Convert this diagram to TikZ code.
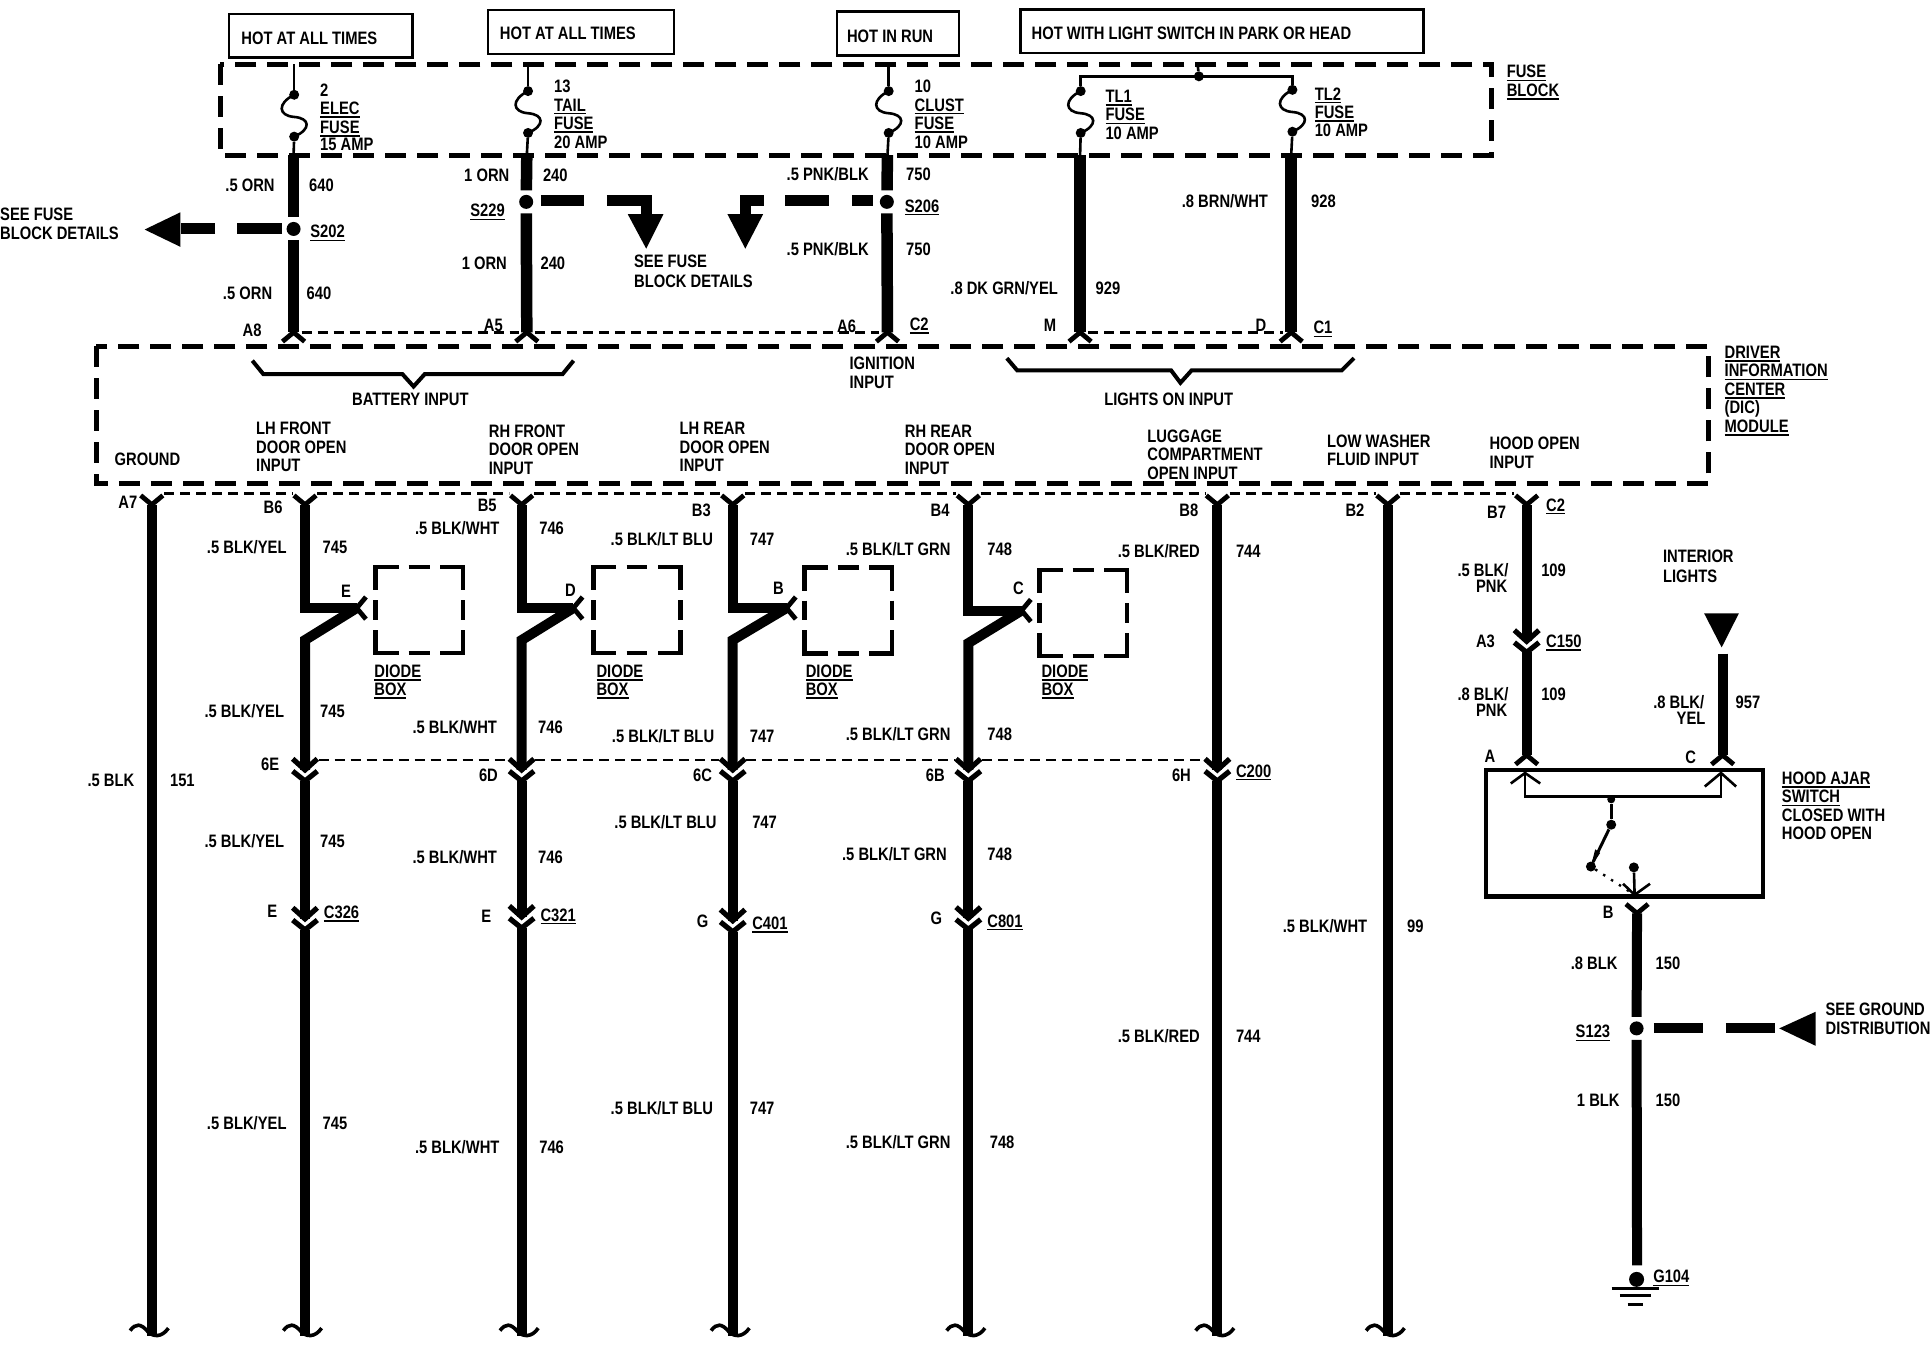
\documentclass[tikz,border=0pt]{standalone}
\usepackage{fontspec}
\setmainfont[FakeStretch=0.82]{Liberation Sans}
\newcommand{\ul}[1]{\vtop{\hbox{#1}\kern1.5pt\hrule height 1.6pt}}

\begin{document}
\begin{tikzpicture}[x=1.2309pt,y=-1.2309pt,
    every node/.style={font=\fontsize{18}{18}\selectfont\bfseries},
    lab/.style={anchor=base west,inner sep=0pt,yshift=-6.5pt},
    wire/.style={line width=10pt},
    wiretop/.style={line width=11.5pt},
    thinw/.style={line width=2.6pt},
    hotbox/.style={line width=2.6pt},
    bigdash/.style={line width=5pt,dash pattern=on 21pt off 11pt},
    boxdash/.style={line width=4.5pt},
    thindash/.style={line width=2.6pt,dash pattern=on 10pt off 6pt},
    brace/.style={line width=4pt},
    solidbox/.style={line width=4.5pt},
    feed/.style={line width=11pt},
    splice/.style={circle,fill,inner sep=0pt,minimum size=14pt,outer sep=4.5pt},
    fdot/.style={circle,fill,inner sep=0pt,minimum size=10pt},
    sdot/.style={circle,fill,inner sep=0pt,minimum size=8pt},
    pics/fork/.style={code={\draw[line width=4.8pt,rotate=#1] (-9,-7.5) -- (0,0) -- (9,-7.5);}},
    pics/plug/.style={code={
      \draw[line width=5.2pt] (-10,-9) -- (0,0) -- (10,-9);
      \draw[line width=5.2pt] (-10,1) -- (0,9) -- (10,1);
      \coordinate (-in) at (0,0);
      \coordinate (-out) at (0,9);}},
    pics/brk/.style={code={\draw[line width=3.6pt] (-17.6,-4) .. controls (-13,-10) and (-9,-10) .. (-3,-3) .. controls (1,1) and (8,2) .. (13.5,-6);}},
    pics/fuse/.style={code={
      \node[fdot] (-a) at (0,0) {};
      \node[fdot] (-b) at (0,34) {};
      \draw[thinw] (-a.center) .. controls (-14,7) and (-13,17) .. (0,18) .. controls (13,19) and (14,28) .. (-b.center);}}]

\useasboundingbox (0,0) rectangle (1568,1092);

% top boxes
\draw[hotbox] (186,11.5) rectangle (335,46.5);
\draw[hotbox] (396.5,8) rectangle (547.5,44);
\draw[hotbox] (680,9.5) rectangle (779,45);
\draw[hotbox] (829,7.6) rectangle (1156.5,43);
\node[lab] (hot1) at (196,31) {HOT AT ALL TIMES};
\node[lab] (hot2) at (406,27) {HOT AT ALL TIMES};
\node[lab] (hot3) at (688,29) {HOT IN RUN};
\node[lab] (hot4) at (838,27) {HOT WITH LIGHT SWITCH IN PARK OR HEAD};

% fuse block
\draw[bigdash] (179,52) rectangle (1211.5,126);
\node[lab] (fb1) at (1224,58) {\ul{FUSE}};
\node[lab] (fb2) at (1224,73) {\ul{BLOCK}};

\coordinate (t1) at (239,52);
\coordinate (t2) at (429,52);
\coordinate (t3) at (722,52);
\coordinate (t4) at (973,52);
\coordinate (o1) at (238.5,126);
\coordinate (o2) at (428,126);
\coordinate (o3) at (721,126);
\coordinate (o4) at (877.5,126);
\coordinate (o5) at (1049,126);

\pic (f1) at (239,77) {fuse};
\pic (f2) at (429,74) {fuse};
\pic (f3) at (722,74) {fuse};
\pic (f4) at (878,74) {fuse};
\pic (f5) at (1050,73) {fuse};
\draw[thinw] (t1) -- (f1-a);
\draw[thinw] (t2) -- (f2-a);
\draw[thinw] (t3) -- (f3-a);
\draw[thinw] (f1-b) -- (o1);
\draw[thinw] (f2-b) -- (o2);
\draw[thinw] (f3-b) -- (o3);
\draw[thinw] (f4-b) -- (o4);
\draw[thinw] (f5-b) -- (o5);
\node[fdot] (tl) at (974,62) {};
\draw[thinw] (t4) -- (tl);
\draw[line width=3.2pt] (f4-a) |- (tl.center) -| (f5-a);

\node[lab] (n1a) at (260,73) {2};
\node[lab] (n1b) at (260,88) {\ul{ELEC}};
\node[lab] (n1c) at (260,103) {\ul{FUSE}};
\node[lab] (n1d) at (260,117) {15 AMP};
\node[lab] (n2a) at (450,70) {13};
\node[lab] (n2b) at (450,85) {\ul{TAIL}};
\node[lab] (n2c) at (450,100) {\ul{FUSE}};
\node[lab] (n2d) at (450,115) {20 AMP};
\node[lab] (n3a) at (743,70) {10};
\node[lab] (n3b) at (743,85) {\ul{CLUST}};
\node[lab] (n3c) at (743,100) {\ul{FUSE}};
\node[lab] (n3d) at (743,115) {10 AMP};
\node[lab] (n4b) at (898,78) {\ul{TL1}};
\node[lab] (n4c) at (898,93) {\ul{FUSE}};
\node[lab] (n4d) at (898,108) {10 AMP};
\node[lab] (n5b) at (1068,76) {\ul{TL2}};
\node[lab] (n5c) at (1068,91) {\ul{FUSE}};
\node[lab] (n5d) at (1068,106) {10 AMP};

% wires down to the module
\coordinate (u1) at (238.5,270);
\coordinate (u2) at (428,270);
\coordinate (u3) at (721,270);
\coordinate (u4) at (877.5,270);
\coordinate (u5) at (1049,270);
\node[splice] (s202) at (238.5,186) {};
\node[splice] (s229) at (427.5,164) {};
\node[splice] (s206) at (720.5,164) {};
\draw[wiretop] (o1) -- (s202);
\draw[wiretop] (s202) -- (u1);
\draw[wiretop] (o2) -- (s229);
\draw[wiretop] (s229) -- (u2);
\draw[wiretop] (o3) -- (s206);
\draw[wiretop] (s206) -- (u3);
\draw[wiretop] (o4) -- (u4);
\draw[wiretop] (o5) -- (u5);
\foreach \a/\b in {u1/u2,u2/u3,u4/u5}
  \draw[thindash] ([xshift=8pt]\a) -- ([xshift=-8pt]\b);
\foreach \a in {u1,u2,u3,u4,u5}
  \pic at (\a) {fork=180};

% feeds to the fuse block details
\coordinate (a1) at (147,186);
\coordinate (a2a) at (525.5,163);
\coordinate (a2b) at (525.5,175);
\coordinate (a3a) at (606,163);
\coordinate (a3b) at (606,175);
\draw[feed,dash pattern=on 45pt off 22pt on 40pt off 10pt] (s202) -- (a1);
\draw[feed,dash pattern=on 43pt off 23pt on 60pt off 10pt] (s229.center) ++(12,-1) -- (a2a) -- (a2b);
\draw[feed,dash pattern=on 21pt off 23pt on 44pt off 21pt on 50pt off 10pt] (s206.center) ++(-11.5,-1) -- (a3a) -- (a3b);
\fill (117.5,186.5) -- (146.5,172.5) -- (146.5,200.5) -- cycle;
\fill (510,174) -- (539,174) -- (525,202) -- cycle;
\fill (591,174) -- (620,174) -- (605.5,202) -- cycle;

\node[lab] (see1a) at (0,174) {SEE FUSE};
\node[lab] (see1b) at (0,189) {BLOCK DETAILS};
\node[lab] (see2a) at (515,212) {SEE FUSE};
\node[lab] (see2b) at (515,228) {BLOCK DETAILS};

\node[lab] (g1a) at (183,150) {.5 ORN};
\node[lab] (c1a) at (251,150) {640};
\node[lab] (spl1) at (252,188) {\ul{S202}};
\node[lab] (g1b) at (181,238) {.5 ORN};
\node[lab] (c1b) at (249,238) {640};
\node[lab] (pA8) at (197,268) {A8};
\node[lab] (g2a) at (377,142) {1 ORN};
\node[lab] (c2a) at (441,142) {240};
\node[lab] (spl2) at (382,171) {\ul{S229}};
\node[lab] (g2b) at (375,214) {1 ORN};
\node[lab] (c2b) at (439,214) {240};
\node[lab] (pA5) at (393,264) {A5};
\node[lab] (g3a) at (639,141) {.5 PNK/BLK};
\node[lab] (c3a) at (736,141) {750};
\node[lab] (spl3) at (735,167) {\ul{S206}};
\node[lab] (g3b) at (639,202) {.5 PNK/BLK};
\node[lab] (c3b) at (736,202) {750};
\node[lab] (pA6) at (680,265) {A6};
\node[lab] (pC2a) at (739,263) {\ul{C2}};
\node[lab] (g4) at (772,234) {.8 DK GRN/YEL};
\node[lab] (c4) at (890,234) {929};
\node[lab] (g5) at (960,163) {.8 BRN/WHT};
\node[lab] (c5) at (1065,163) {928};
\node[lab] (pM) at (848,264) {M};
\node[lab] (pD) at (1020,264) {D};
\node[lab] (pC1) at (1067,266) {\ul{C1}};

% module
\draw[bigdash] (78,281.5) rectangle (1388,393);
\node[lab] (dic1) at (1401,286) {\ul{DRIVER}};
\node[lab] (dic2) at (1401,301) {\ul{INFORMATION}};
\node[lab] (dic3) at (1401,316) {\ul{CENTER}};
\node[lab] (dic4) at (1401,331) {(DIC)};
\node[lab] (dic5) at (1401,346) {\ul{MODULE}};

\draw[brace] (205,293) -- (214,304) -- (327,304) -- (336,314) -- (345,304) -- (457,304) -- (466,293);
\draw[brace] (818,291) -- (826.5,301) -- (951.5,301) -- (959,311) -- (968,301) -- (1090,301) -- (1100,291);
\node[lab] (bat) at (286,324) {BATTERY INPUT};
\node[lab] (lit) at (897,324) {LIGHTS ON INPUT};
\node[lab] (ign1) at (690,295) {IGNITION};
\node[lab] (ign2) at (690,310) {INPUT};
\node[lab] (gnd) at (93,373) {GROUND};
\node[lab] (lf1) at (208,348) {LH FRONT};
\node[lab] (lf2) at (208,363) {DOOR OPEN};
\node[lab] (lf3) at (208,378) {INPUT};
\node[lab] (rf1) at (397,350) {RH FRONT};
\node[lab] (rf2) at (397,365) {DOOR OPEN};
\node[lab] (rf3) at (397,380) {INPUT};
\node[lab] (lr1) at (552,348) {LH REAR};
\node[lab] (lr2) at (552,363) {DOOR OPEN};
\node[lab] (lr3) at (552,378) {INPUT};
\node[lab] (rr1) at (735,350) {RH REAR};
\node[lab] (rr2) at (735,365) {DOOR OPEN};
\node[lab] (rr3) at (735,380) {INPUT};
\node[lab] (lug1) at (932,354) {LUGGAGE};
\node[lab] (lug2) at (932,369) {COMPARTMENT};
\node[lab] (lug3) at (932,384) {OPEN INPUT};
\node[lab] (low1) at (1078,358) {LOW WASHER};
\node[lab] (low2) at (1078,373) {FLUID INPUT};
\node[lab] (hd1) at (1210,360) {HOOD OPEN};
\node[lab] (hd2) at (1210,375) {INPUT};

% wires out of the module
\coordinate (b0) at (123.3,410);
\coordinate (b1) at (247.8,410);
\coordinate (b2) at (423.8,410);
\coordinate (b3) at (595.3,410);
\coordinate (b4) at (786.7,410);
\coordinate (b5) at (989,410);
\coordinate (b6) at (1127.5,410);
\coordinate (b7) at (1240.3,410);
\coordinate (e0) at (123.3,1085);
\coordinate (e1) at (247.8,1085);
\coordinate (e2) at (423.8,1085);
\coordinate (e3) at (595.3,1085);
\coordinate (e4) at (786.7,1085);
\coordinate (e5) at (989,1085);
\coordinate (e6) at (1127.5,1085);

\foreach \a/\b in {b0/b1,b1/b2,b2/b3,b3/b4,b4/b5,b5/b6,b6/b7}
  \draw[thindash] ([shift={(10,-9)}]\a) -- ([shift={(-10,-9)}]\b);
\foreach \a in {b0,b1,b2,b3,b4,b5,b6,b7}
  \pic at (\a) {fork=0};
\foreach \a in {e0,e1,e2,e3,e4,e5,e6}
  \pic at (\a) {brk};

\pic (p1a) at (247.8,625.5) {plug};
\pic (p2a) at (423.8,625.5) {plug};
\pic (p3a) at (595.3,625.5) {plug};
\pic (p4a) at (786.7,625.5) {plug};
\pic (p5a) at (989,625.5) {plug};
\pic (p1b) at (247.8,746.5) {plug};
\pic (p2b) at (423.8,745) {plug};
\pic (p3b) at (595.3,748) {plug};
\pic (p4b) at (786.7,746) {plug};
\foreach \a/\b in {p1a/p2a,p2a/p3a,p3a/p4a,p4a/p5a}
  \draw[thindash] ([shift={(11,-8)}]\a-in) -- ([shift={(-11,-8)}]\b-in);

\coordinate (k1) at (247.8,494);
\coordinate (d1) at (289.8,494);
\coordinate (j1) at (247.8,520);
\coordinate (k2) at (423.8,494);
\coordinate (d2) at (465.8,494);
\coordinate (j2) at (423.8,520);
\coordinate (k3) at (595.3,494);
\coordinate (d3) at (639,494);
\coordinate (j3) at (595.3,520);
\coordinate (k4) at (786.7,496);
\coordinate (d4) at (830,496);
\coordinate (j4) at (786.7,522.5);

\draw[wire] (b0) -- (e0);
\foreach \i in {1,2,3,4} {
  \draw[wire] (b\i) -- (k\i) -- (d\i);
  \draw[wire] (d\i) -- (j\i) -- (p\i a-in);
  \draw[wire] (p\i a-out) -- (p\i b-in);
  \draw[wire] (p\i b-out) -- (e\i);
  \pic at (d\i) {fork=-90};
}
\draw[wire] (b5) -- (p5a-in);
\draw[wire] (p5a-out) -- (e5);
\draw[wire] (b6) -- (e6);

% diode boxes
\foreach \x/\y in {305/460.5,482/460.5,653.5/461,844.5/463} {
  \draw[boxdash,line cap=rect] (\x,\y+17) -- (\x,\y) -- (\x+17,\y);
  \draw[boxdash,line cap=rect] (\x+54,\y) -- (\x+71,\y) -- (\x+71,\y+17);
  \draw[boxdash,line cap=rect] (\x,\y+53) -- (\x,\y+70) -- (\x+17,\y+70);
  \draw[boxdash,line cap=rect] (\x+54,\y+70) -- (\x+71,\y+70) -- (\x+71,\y+53);
  \draw[boxdash] (\x+27,\y) -- (\x+44,\y);
  \draw[boxdash] (\x+27,\y+70) -- (\x+44,\y+70);
  \draw[boxdash] (\x,\y+27) -- (\x,\y+43);
  \draw[boxdash] (\x+71,\y+27) -- (\x+71,\y+43);
}
\node[lab] (dd1a) at (304,545) {\ul{DIODE}};
\node[lab] (dd1b) at (304,560) {\ul{BOX}};
\node[lab] (dd2a) at (484.5,545) {\ul{DIODE}};
\node[lab] (dd2b) at (484.5,560) {\ul{BOX}};
\node[lab] (dd3a) at (654.5,545) {\ul{DIODE}};
\node[lab] (dd3b) at (654.5,560) {\ul{BOX}};
\node[lab] (dd4a) at (846,545) {\ul{DIODE}};
\node[lab] (dd4b) at (846,560) {\ul{BOX}};
\node[lab] (pE1) at (277,480) {E};
\node[lab] (pD2) at (459,479) {D};
\node[lab] (pB3) at (628,478) {B};
\node[lab] (pC4) at (823,478) {C};

% column labels
\node[lab] (pA7) at (96,408) {A7};
\node[lab] (g0) at (71,634) {.5 BLK};
\node[lab] (c0) at (138,634) {151};

\node[lab] (pB6) at (214,412) {B6};
\node[lab] (w1a) at (168,444) {.5 BLK/YEL};
\node[lab] (v1a) at (262,444) {745};
\node[lab] (w1b) at (166,578) {.5 BLK/YEL};
\node[lab] (v1b) at (260,578) {745};
\node[lab] (p6E) at (212,621) {6E};
\node[lab] (w1c) at (166,683) {.5 BLK/YEL};
\node[lab] (v1c) at (260,683) {745};
\node[lab] (pE) at (217,740) {E};
\node[lab] (pC326) at (263,741) {\ul{C326}};
\node[lab] (w1d) at (168,912) {.5 BLK/YEL};
\node[lab] (v1d) at (262,912) {745};

\node[lab] (pB5) at (388,410) {B5};
\node[lab] (w2a) at (337,429) {.5 BLK/WHT};
\node[lab] (v2a) at (438,429) {746};
\node[lab] (w2b) at (335,591) {.5 BLK/WHT};
\node[lab] (v2b) at (437,591) {746};
\node[lab] (p6D) at (389,630) {6D};
\node[lab] (w2c) at (335,696) {.5 BLK/WHT};
\node[lab] (v2c) at (437,696) {746};
\node[lab] (pE2) at (391,744) {E};
\node[lab] (pC321) at (439,743) {\ul{C321}};
\node[lab] (w2d) at (337,932) {.5 BLK/WHT};
\node[lab] (v2d) at (438,932) {746};

\node[lab] (pB3b) at (562,414) {B3};
\node[lab] (w3a) at (496,438) {.5 BLK/LT BLU};
\node[lab] (v3a) at (609,438) {747};
\node[lab] (w3b) at (497,598) {.5 BLK/LT BLU};
\node[lab] (v3b) at (609,598) {747};
\node[lab] (p6C) at (563,630) {6C};
\node[lab] (w3c) at (499,668) {.5 BLK/LT BLU};
\node[lab] (v3c) at (611,668) {747};
\node[lab] (pG3) at (566,748) {G};
\node[lab] (pC401) at (611,750) {\ul{C401}};
\node[lab] (w3d) at (496,900) {.5 BLK/LT BLU};
\node[lab] (v3d) at (609,900) {747};

\node[lab] (pB4) at (756,414) {B4};
\node[lab] (w4a) at (687,446) {.5 BLK/LT GRN};
\node[lab] (v4a) at (802,446) {748};
\node[lab] (w4b) at (687,596) {.5 BLK/LT GRN};
\node[lab] (v4b) at (802,596) {748};
\node[lab] (p6B) at (752,630) {6B};
\node[lab] (w4c) at (684,694) {.5 BLK/LT GRN};
\node[lab] (v4c) at (802,694) {748};
\node[lab] (pG4) at (756,746) {G};
\node[lab] (pC801) at (802,748) {\ul{C801}};
\node[lab] (w4d) at (687,928) {.5 BLK/LT GRN};
\node[lab] (v4d) at (804,928) {748};

\node[lab] (pB8) at (958,414) {B8};
\node[lab] (w5a) at (908,448) {.5 BLK/RED};
\node[lab] (v5a) at (1004,448) {744};
\node[lab] (p6H) at (952,630) {6H};
\node[lab] (pC200) at (1004,626) {\ul{C200}};
\node[lab] (w5b) at (908,842) {.5 BLK/RED};
\node[lab] (v5b) at (1004,842) {744};

\node[lab] (pB2) at (1093,414) {B2};
\node[lab] (w6) at (1042,752) {.5 BLK/WHT};
\node[lab] (v6) at (1143,752) {99};

% hood ajar switch
\pic (p7) at (1240.3,521) {plug};
\coordinate (h1) at (1240.3,613.5);
\coordinate (h2) at (1399.5,613.5);
\coordinate (h3) at (1399.5,531);
\draw[wire] (b7) -- (p7-in);
\draw[wire] (p7-out) -- (h1);
\draw[wire] (h3) -- (h2);
\pic at (h1) {fork=180};
\pic at (h2) {fork=180};
\fill (1384.5,498.3) -- (1412.7,498.3) -- (1398.7,526) -- cycle;

\node[lab] (pB7) at (1208,416) {B7};
\node[lab] (pC2b) at (1256,410) {\ul{C2}};
\node[lab] (w7a) at (1184,463) {.5 BLK/};
\node[lab] (w7b) at (1199,476) {PNK};
\node[lab] (v7a) at (1252,463) {109};
\node[lab] (pA3) at (1199,521) {A3};
\node[lab] (pC150) at (1256,521) {\ul{C150}};
\node[lab] (w7c) at (1184,564) {.8 BLK/};
\node[lab] (w7d) at (1199,577) {PNK};
\node[lab] (v7b) at (1252,564) {109};
\node[lab] (pA) at (1206,614) {A};
\node[lab] (w8a) at (1343,570) {.8 BLK/};
\node[lab] (w8b) at (1362,583) {YEL};
\node[lab] (v8) at (1410,570) {957};
\node[lab] (pC) at (1369,615) {C};
\node[lab] (int1) at (1351,452) {INTERIOR};
\node[lab] (int2) at (1351,468) {LIGHTS};

\draw[solidbox] (1207.4,625.6) rectangle (1432.5,728.5);
\node[lab] (sw1) at (1447.5,632) {\ul{HOOD AJAR}};
\node[lab] (sw2) at (1447.5,647) {\ul{SWITCH}};
\node[lab] (sw3) at (1447.5,662) {CLOSED WITH};
\node[lab] (sw4) at (1447.5,677) {HOOD OPEN};

\coordinate (q1) at (1239,628);
\coordinate (q2) at (1398.2,628);
\coordinate (q3) at (1328,727);
\node[sdot] (r1) at (1309,649.4) {};
\node[fdot] (r2) at (1309,670) {};
\node[fdot] (r3) at (1292.5,704) {};
\node[fdot] (r4) at (1327.4,704.7) {};
\draw[thinw] (q1) -- (1239,647) -- (1398.2,647) -- (q2);
\draw[thinw] (1227.4,636.5) -- (q1) -- (1251.3,636.5);
\draw[thinw] (1385,639) -- (q2) -- (1410.5,639);
\draw[thinw] (r1) -- (r2);
\draw[line width=3pt] (r2) -- (r3);
\fill (1296,690) -- (1300,693) -- (1292.5,704) -- cycle;
\draw[thinw] (r4) -- (q3);
\draw[thinw] (1318.6,718) -- (q3) -- (1340.5,718);
\draw[line width=2.4pt,dash pattern=on 2.4pt off 7pt] (r3) -- (q3);

% ground side
\coordinate (b8) at (1330,742);
\coordinate (g8) at (1330,1028);
\node[splice] (s123) at (1329.6,835.5) {};
\node[fdot,minimum size=15pt] (g104) at (1329.6,1039.4) {};
\coordinate (a8) at (1442,835.5);
\draw[wire] (b8) -- (s123);
\draw[wire] (s123) -- (g8);
\draw[feed,line width=10pt,dash pattern=on 49pt off 23pt on 50pt off 10pt] (s123.center) ++(14,0) -- (a8);
\pic at (b8) {fork=0};
\fill (1445.5,835.5) -- (1475,822) -- (1475,849.6) -- cycle;
\draw[line width=2.8pt] (1309.3,1046.7) -- (1348,1046.7);
\draw[line width=2.8pt] (1316,1052.4) -- (1341,1052.4);
\draw[line width=2.8pt] (1322.3,1059.5) -- (1334.5,1059.5);

\node[lab] (pB) at (1302,741) {B};
\node[lab] (w9a) at (1276,782) {.8 BLK};
\node[lab] (v9a) at (1345,782) {150};
\node[lab] (pS123) at (1280,838) {\ul{S123}};
\node[lab] (w9b) at (1281,894) {1 BLK};
\node[lab] (v9b) at (1345,894) {150};
\node[lab] (pG104) at (1343,1037) {\ul{G104}};
\node[lab] (gd1) at (1483,820) {SEE GROUND};
\node[lab] (gd2) at (1483,835) {DISTRIBUTION};

\end{tikzpicture}
\end{document}
